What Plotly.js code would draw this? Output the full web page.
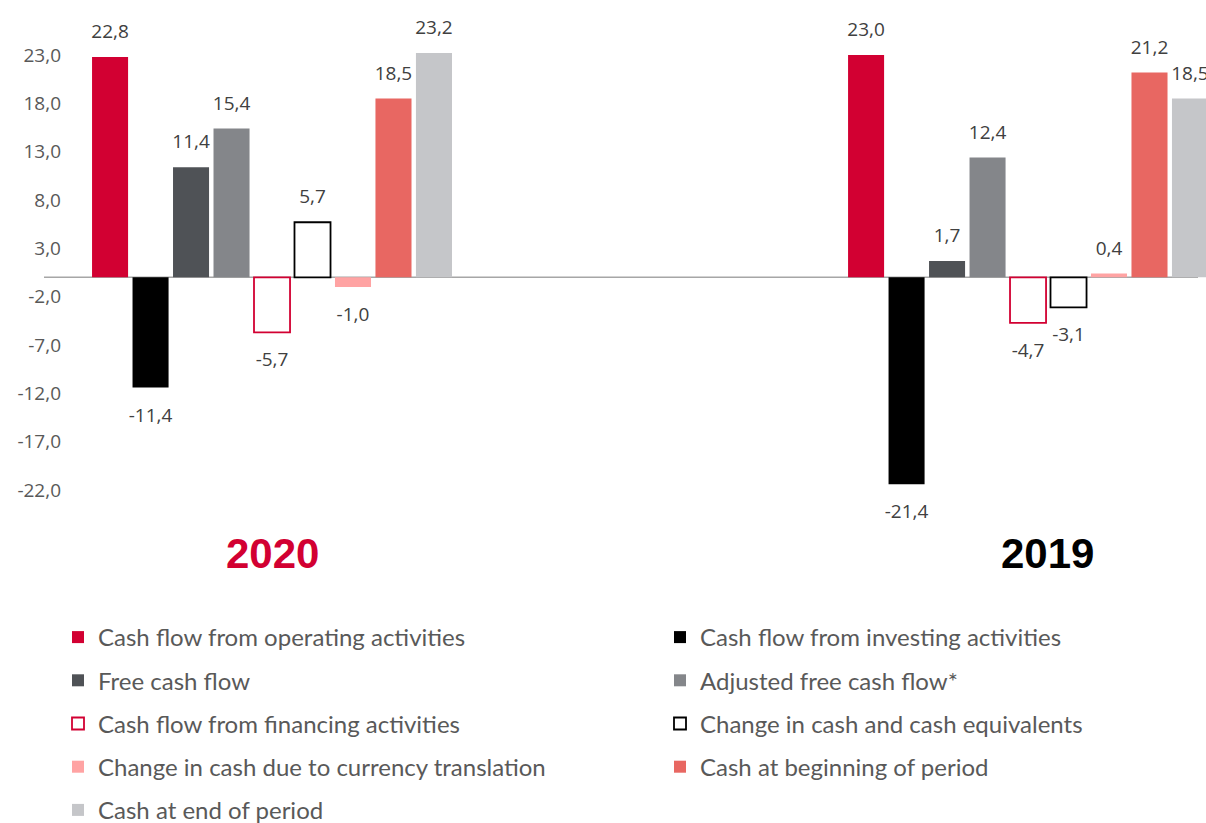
<!DOCTYPE html>
<html>
<head>
<meta charset="utf-8">
<script src="https://cdn.plot.ly/plotly-3.0.1.min.js"></script>
<style>
  html, body { margin: 0; padding: 0; background: #ffffff; }
  #wrap { position: relative; width: 1206px; height: 823px; overflow: hidden; }
  #chart { width: 1206px; height: 823px; }
  #frame { position: absolute; left: 6px; top: 0; width: 2px; height: 823px; background: #d9d9d9; }
</style>
</head>
<body>
<div id="wrap">
  <div id="frame"></div>
  <div id="chart"></div>
</div>
<script>
// ---- data ----
const years = ["2020", "2019"];
const yearColors = ["#d20032", "#000000"];

const seriesNames = [
  "Cash flow from operating activities",
  "Cash flow from investing activities",
  "Free cash flow",
  "Adjusted free cash flow*",
  "Cash flow from financing activities",
  "Change in cash and cash equivalents",
  "Change in cash due to currency translation",
  "Cash at beginning of period",
  "Cash at end of period"
];

const operating  = [22.8, 23.0];
const investing  = [-11.4, -21.4];
const freeCF     = [11.4, 1.7];
const adjFreeCF  = [15.4, 12.4];
const financing  = [-5.7, -4.7];
const changeCash = [5.7, -3.1];
const currency   = [-1.0, 0.4];
const beginning  = [18.5, 21.2];
const ending     = [23.2, 18.5];

const tickValues = [-22, -17, -12, -7, -2, 3, 8, 13, 18, 23];

// ---- styles ----
const seriesValues = [operating, investing, freeCF, adjFreeCF, financing, changeCash, currency, beginning, ending];
const fills   = ["#d20032", "#000000", "#4f5256", "#84868a", "#ffffff", "#ffffff", "#ffa3a3", "#e86762", "#c5c6c9"];
const outlines = [null, null, null, null, "#d20032", "#000000", null, null, null];

function fmt(v) { return v.toFixed(1).replace(".", ","); }

const barTraces = seriesValues.map((vals, i) => ({
  type: "bar",
  name: seriesNames[i],
  x: years,
  y: vals,
  marker: {
    color: fills[i],
    line: outlines[i] ? { color: outlines[i], width: 1.8 } : { width: 0 }
  },
  legend: i % 2 === 0 ? "legend" : "legend2",
  legendgroup: "g" + i,
  hoverinfo: "skip"
}));

// value labels, grouped the same way as the bars
const labelTraces = seriesValues.map((vals, i) => ({
  type: "scatter",
  mode: "markers+text",
  x: years,
  y: vals,
  text: vals.map(fmt),
  textposition: vals.map(v => v >= 0 ? "top center" : "bottom center"),
  textfont: { family: "Open Sans", size: 19, color: "#404040" },
  marker: { size: vals.map(v => v >= 0 ? 21 : 30), color: "rgba(0,0,0,0)", line: { width: 0 } },
  cliponaxis: false,
  showlegend: false,
  hoverinfo: "skip"
}));

const L = 66, R = 1206, T = 0, B = 523;
const pw = R - L, ph = B - T;
const pxX = p => (p - L) / pw;
const pxY = p => (B - p) / ph;

const legendStyle = {
  orientation: "v",
  xanchor: "left",
  yanchor: "top",
  y: pxY(615),
  tracegroupgap: 9,
  font: { family: "Lato", size: 24, color: "#595959" },
  bgcolor: "rgba(0,0,0,0)",
  itemclick: false,
  itemdoubleclick: false
};

const layout = {
  width: 1206,
  height: 823,
  margin: { l: L, r: 1206 - R, t: T, b: 823 - B, autoexpand: false },
  paper_bgcolor: "#ffffff",
  plot_bgcolor: "rgba(0,0,0,0)",
  barmode: "group",
  bargap: 0.518,
  bargroupgap: 0.11,
  scattermode: "group",
  scattergap: 0.518,
  showlegend: true,
  xaxis: {
    type: "category",
    range: [-0.2725, 1.2354],
    showticklabels: false,
    showgrid: false,
    zeroline: false,
    showline: false,
    ticks: ""
  },
  yaxis: {
    range: [-25.41, 28.69],
    tickvals: tickValues,
    ticktext: tickValues.map(fmt),
    tickfont: { family: "Open Sans", size: 19, color: "#595959" },
    showgrid: false,
    zeroline: false,
    showline: false,
    ticks: "",
    ticklabelstandoff: 4
  },
  shapes: [{
    type: "line",
    xref: "paper", yref: "y",
    x0: pxX(44), x1: pxX(1198), y0: 0, y1: 0,
    line: { color: "#a6a6a6", width: 1.5 },
    layer: "below"
  }],
  annotations: years.map((yr, i) => ({
    text: "<b>" + yr + "</b>",
    xref: "x", yref: "paper",
    x: i, y: pxY(553),
    xshift: i === 1 ? 19 : 0,
    showarrow: false,
    xanchor: "center", yanchor: "middle",
    font: { family: "Liberation Sans", size: 42, color: yearColors[i] }
  })),
  legend: Object.assign({}, legendStyle, { x: pxX(58) }),
  legend2: Object.assign({}, legendStyle, { x: pxX(660) })
};

Plotly.newPlot("chart", barTraces.concat(labelTraces), layout, { staticPlot: true, displayModeBar: false });
</script>
</body>
</html>
